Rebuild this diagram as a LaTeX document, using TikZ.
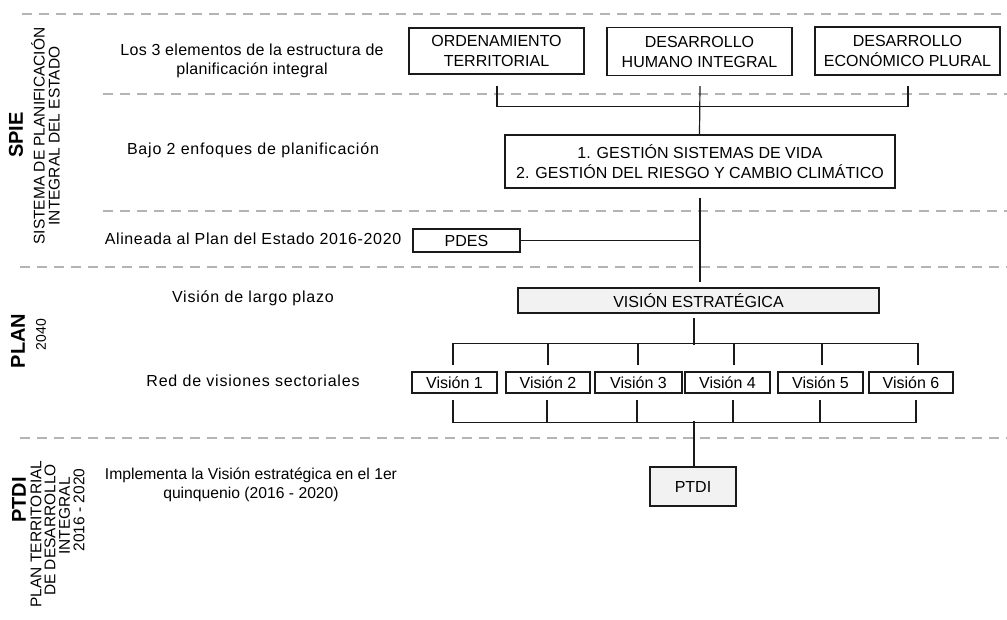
\documentclass[tikz,border=0pt]{standalone}
\usepackage{fontspec}
\setmainfont{Liberation Sans}
\definecolor{sepgray}{HTML}{B4B4B4}
\definecolor{boxfill}{HTML}{F2F2F2}
\definecolor{ink}{HTML}{1A1A1A}
\tikzset{
  sep/.style={draw=sepgray, line width=2.6pt, dash pattern=on 10pt off 7pt},
  conn/.style={draw=ink, line width=1.2pt},
  box/.style={draw=ink, line width=1.2pt, inner sep=0pt, align=center,
    font=\fontsize{16}{20}\selectfont},
  lbl/.style={align=center, font=\fontsize{16}{19}\selectfont\addfontfeatures{LetterSpace=5}},
  big/.style={rotate=90, font=\fontsize{20}{22}\selectfont\bfseries},
  sub/.style={rotate=90, align=center, font=\fontsize{15.5}{15}\selectfont},
}
\begin{document}
\begin{tikzpicture}[x=1pt,y=-1pt]
\useasboundingbox (0,0) rectangle (1007,620);
% separators
\draw[sep] (22,14) -- (1007,14);
\draw[sep] (103,94) -- (1007,94);
\draw[sep] (103,211) -- (1007,211);
\draw[sep] (20,267) -- (1007,267);
\draw[sep] (20,438) -- (1007,438);
% left side titles
\node[big] (spie) at (16,135) {SPIE};
\node[sub] (spiesub) at (45.5,136) {SISTEMA DE PLANIFICACIÓN\\INTEGRAL DEL ESTADO};
\node[big] (plan) at (18,341) {PLAN};
\node[rotate=90, font=\fontsize{14}{15}\selectfont] (plany) at (41,334.5) {2040};
\node[big] (ptdit) at (19,500) {PTDI};
\node[sub] (pt1) at (36,534) {PLAN TERRITORIAL};
\node[sub] (pt2) at (50,530) {DE DESARROLLO};
\node[sub] (pt3) at (64.5,516) {INTEGRAL};
\node[sub] (pt4) at (79,510) {2016 - 2020};
% row labels
\node[lbl, font=\fontsize{16}{19}\selectfont\addfontfeatures{LetterSpace=2}] (l1) at (252,61) {Los 3 elementos de la estructura de\\planificación integral};
\node[lbl] (l2) at (253,150) {Bajo 2 enfoques de planificación};
\node[lbl, font=\fontsize{16}{19}\selectfont\addfontfeatures{LetterSpace=4}] (l3) at (253,239) {Alineada al Plan del Estado 2016-2020};
\node[lbl] (l4) at (253,298) {Visión de largo plazo};
\node[lbl] (l5) at (253,381) {Red de visiones sectoriales};
\node[lbl, font=\fontsize{15.7}{19}\selectfont] (l6) at (251,485) {Implementa la Visión estratégica en el 1er\\quinquenio (2016 - 2020)};
% boxes
\node[box, minimum width=175pt, minimum height=46pt] (ot) at (496.5,51) {ORDENAMIENTO\\TERRITORIAL};
\node[box, minimum width=185pt, minimum height=48pt] (dh) at (699.5,51.5) {DESARROLLO\\HUMANO INTEGRAL};
\node[box, minimum width=185pt, minimum height=48pt] (de) at (907.5,51) {DESARROLLO\\ECONÓMICO PLURAL};
\node[box, minimum width=390pt, minimum height=53pt] (gs) at (700,161.5) {1. GESTIÓN SISTEMAS DE VIDA\\2. GESTIÓN DEL RIESGO Y CAMBIO CLIMÁTICO};
\node[box, minimum width=107pt, minimum height=23pt] (pdes) at (466.5,240.5) {PDES};
\node[box, fill=boxfill, minimum width=361pt, minimum height=25pt] (ve) at (698.5,300.5) {VISIÓN ESTRATÉGICA};
\node[box, minimum width=85pt, minimum height=21pt] (v1) at (454.5,382.5) {Visión 1};
\node[box, minimum width=84pt, minimum height=21pt] (v2) at (548,382.5) {Visión 2};
\node[box, minimum width=87pt, minimum height=21pt] (v3) at (638.5,382.5) {Visión 3};
\node[box, minimum width=85pt, minimum height=21pt] (v4) at (727.5,382.5) {Visión 4};
\node[box, minimum width=85pt, minimum height=21pt] (v5) at (820.5,382.5) {Visión 5};
\node[box, minimum width=84pt, minimum height=21pt] (v6) at (911,382.5) {Visión 6};
\node[box, fill=boxfill, minimum width=86pt, minimum height=39pt] (ptdi) at (693,486.5) {PTDI};
% top connectors
\draw[conn] ([xshift=0.5pt,yshift=-11pt]ot.south) -- ([xshift=0.5pt,yshift=-32pt]ot.south) -| ([xshift=0.5pt,yshift=-10pt]de.south);
\draw[conn] ([xshift=0.5pt,yshift=-10pt]dh.south) -- (dh.south |- gs.north);
\draw[conn] ([yshift=-9pt]gs.south) -- ([yshift=5pt]ve.north -| gs.south);
\draw[conn] (pdes.east) -- (pdes.east -| gs.south);
% vision fan-out
\draw[conn] ([xshift=-4.5pt,yshift=-4pt]ve.south) -- ([xshift=-4.5pt,yshift=-31pt]ve.south);
\draw[conn] ([xshift=-1.5pt,yshift=28pt]v1.north) -- ([xshift=7pt,yshift=28pt]v6.north);
\draw[conn] ([xshift=-1.5pt,yshift=6pt]v1.north) -- ([xshift=-1.5pt,yshift=28pt]v1.north);
\draw[conn] ([yshift=6pt]v2.north) -- ([yshift=28pt]v2.north);
\draw[conn] ([xshift=-0.5pt,yshift=6pt]v3.north) -- ([xshift=-0.5pt,yshift=28pt]v3.north);
\draw[conn] ([xshift=6.5pt,yshift=6pt]v4.north) -- ([xshift=6.5pt,yshift=28pt]v4.north);
\draw[conn] ([xshift=1.5pt,yshift=6pt]v5.north) -- ([xshift=1.5pt,yshift=28pt]v5.north);
\draw[conn] ([xshift=7pt,yshift=6pt]v6.north) -- ([xshift=7pt,yshift=28pt]v6.north);
% vision fan-in
\draw[conn] ([xshift=-1.5pt,yshift=-29pt]v1.south) -- ([xshift=5pt,yshift=-29pt]v6.south);
\draw[conn] ([xshift=-1.5pt,yshift=-6pt]v1.south) -- ([xshift=-1.5pt,yshift=-29pt]v1.south);
\draw[conn] ([xshift=-1pt,yshift=-6pt]v2.south) -- ([xshift=-1pt,yshift=-29pt]v2.south);
\draw[conn] ([xshift=-1.5pt,yshift=-6pt]v3.south) -- ([xshift=-1.5pt,yshift=-29pt]v3.south);
\draw[conn] ([xshift=5.5pt,yshift=-6pt]v4.south) -- ([xshift=5.5pt,yshift=-29pt]v4.south);
\draw[conn] ([xshift=-0.5pt,yshift=-6pt]v5.south) -- ([xshift=-0.5pt,yshift=-29pt]v5.south);
\draw[conn] ([xshift=5pt,yshift=-6pt]v6.south) -- ([xshift=5pt,yshift=-29pt]v6.south);
\draw[conn] ([xshift=1pt]ptdi.north) -- ([xshift=1pt,yshift=45pt]ptdi.north);
\end{tikzpicture}
\end{document}
